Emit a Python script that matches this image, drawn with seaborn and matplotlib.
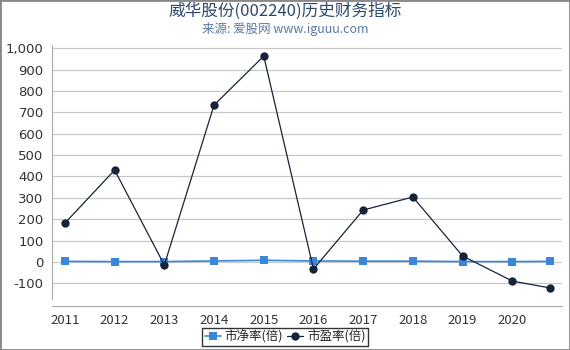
import matplotlib
matplotlib.use("Agg")
import matplotlib.pyplot as plt
import seaborn as sns
import pandas as pd
import numpy as np
from matplotlib.ticker import FuncFormatter, FixedLocator
from matplotlib.patches import Rectangle

years = [2011, 2012, 2013, 2014, 2015, 2016, 2017, 2018, 2019, 2020, 2020.75]
pb = [3, 2, 2, 5, 8, 5, 4, 4, 2, 2, 3]
pe = [182, 430, -14, 734, 963, -33, 243, 304, 28, -89, -121]
xticks = [2011, 2012, 2013, 2014, 2015, 2016, 2017, 2018, 2019, 2020]
yticks = [-100, 0, 100, 200, 300, 400, 500, 600, 700, 800, 900, 1000]
labels = ["市净率(倍)", "市盈率(倍)"]

sns.set_style("white")
plt.rcParams['font.family'] = ['Noto Sans CJK SC', 'DejaVu Sans']

df = pd.DataFrame({"year": years, "pb": pb, "pe": pe})

fig = plt.figure(figsize=(5.7, 3.5), dpi=100)
ax = fig.add_axes([52/570, 1-299/350, (562-52)/570, (299-45)/350])

ax.set_ylim(-173, 1015)
ax.set_xlim(2010.74, 2021.0)
for y in yticks:
    ax.axhline(y, color="#c8c8c8", lw=0.9, zorder=0)

sns.lineplot(data=df, x="year", y="pb", ax=ax, color="#3a86d8", marker="s",
             markersize=6, markeredgewidth=0, lw=1.2, label=labels[0])
sns.lineplot(data=df, x="year", y="pe", ax=ax, color="#16243a", marker="o",
             markersize=6, markeredgewidth=0, lw=0.9, label=labels[1])

ax.set_xlabel("")
ax.set_ylabel("")
ax.xaxis.set_major_locator(FixedLocator(xticks))
ax.yaxis.set_major_locator(FixedLocator(yticks))
ax.yaxis.set_major_formatter(FuncFormatter(lambda v, p: f"{int(v):,}"))
ax.xaxis.set_major_formatter(FuncFormatter(lambda v, p: f"{int(round(v))}"))
ax.tick_params(axis="both", labelsize=9.5, colors="#333333", length=4, width=0.8, pad=2)
ax.tick_params(axis="both", color="#aaaaaa")
for t in ax.get_xticklabels() + ax.get_yticklabels():
    t.set_fontfamily("DejaVu Sans")
for s in ["top", "right"]:
    ax.spines[s].set_visible(False)
ax.spines["left"].set_color("#aaaaaa")
ax.spines["bottom"].set_color("#aaaaaa")
ax.spines["bottom"].set_position(("outward", 5))

leg = ax.legend(loc="center", bbox_to_anchor=(0.5, 1-337/350), bbox_transform=fig.transFigure,
                ncol=2, frameon=True,
                fontsize=9, handlelength=1.3, handletextpad=0.3, columnspacing=0.3,
                borderpad=0.2, borderaxespad=0, fancybox=False)
leg.get_frame().set_edgecolor("black")
leg.get_frame().set_linewidth(1.0)

fig.text(0.5, 1-11/350, "威华股份(002240)历史财务指标", ha="center", va="center",
         fontsize=12, color="#2c4a6e")
fig.text(0.5, 1-29/350, "来源: 爱股网 www.iguuu.com", ha="center", va="center",
         fontsize=9, color="#5a7aa5")

fig.patches.append(Rectangle((0, 0), 1, 1, transform=fig.transFigure, fill=False,
                             edgecolor="#888888", lw=2))
fig.savefig("out.png", dpi=100)
